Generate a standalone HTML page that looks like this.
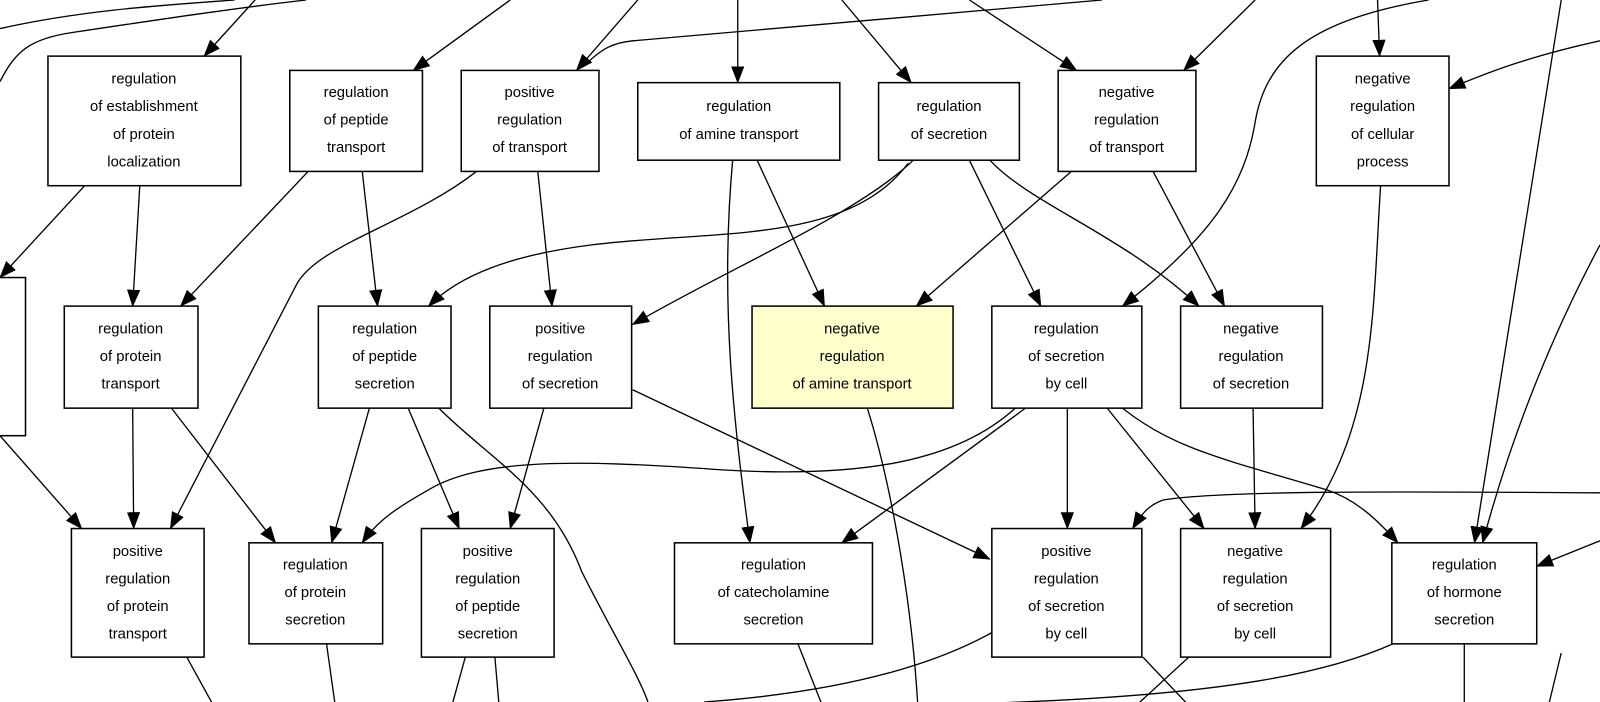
<!DOCTYPE html>
<html><head><meta charset="utf-8"><style>
html,body{margin:0;padding:0;background:#fff;}
svg{display:block;}
text{font-family:"Liberation Sans",sans-serif;font-size:14.5px;fill:#000;text-anchor:middle;}
rect{fill:#fff;stroke:#000;stroke-width:1.5;}
path{fill:none;stroke:#000;stroke-width:1.3;}
</style></head><body>
<svg width="1600" height="702" viewBox="0 0 1568 688" preserveAspectRatio="none" xmlns="http://www.w3.org/2000/svg">
<defs><marker id="a" markerUnits="userSpaceOnUse" markerWidth="17" markerHeight="13" refX="16" refY="6.5" orient="auto"><path d="M0,0 L17,6.5 L0,13 Z" style="fill:#000;stroke:none"/></marker></defs>
<g>
<path d="M0,28 C80,10 160,5 230,0"/>
<path d="M0,80 C15,50 30,38 70,32 C150,20 230,8 300,0"/>
<path d="M250,0 L200,55" marker-end="url(#a)"/>
<path d="M500,0 L405,69" marker-end="url(#a)"/>
<path d="M625,0 L565,69" marker-end="url(#a)"/>
<path d="M1080,0 L620,40 C600,42 590,48 575,62"/>
<path d="M723,0 L723,81" marker-end="url(#a)"/>
<path d="M825,0 L893,81" marker-end="url(#a)"/>
<path d="M950,0 L1055,69" marker-end="url(#a)"/>
<path d="M1230,0 L1160,69" marker-end="url(#a)"/>
<path d="M1350,0 L1352,55" marker-end="url(#a)"/>
<path d="M1568,40 C1500,55 1460,70 1420,87" marker-end="url(#a)"/>
<path d="M1400,0 C1280,20 1240,60 1230,120 C1220,180 1190,230 1100,300" marker-end="url(#a)"/>
<path d="M1530,0 L1445,532" marker-end="url(#a)"/>
<path d="M1568,240 C1520,330 1480,430 1453,532" marker-end="url(#a)"/>
<path d="M1568,530 L1506,555" marker-end="url(#a)"/>
<path d="M1568,483 C1400,482 1200,480 1140,490 C1125,495 1118,505 1110,518" marker-end="url(#a)"/>
<path d="M83,182 L0,272" marker-end="url(#a)"/>
<path d="M137,182 L130,300" marker-end="url(#a)"/>
<path d="M302,168 L177,300" marker-end="url(#a)"/>
<path d="M355,168 L370,300" marker-end="url(#a)"/>
<path d="M467,168 C400,220 310,240 290,280 L167,518" marker-end="url(#a)"/>
<path d="M527,168 L541,300" marker-end="url(#a)"/>
<path d="M718,157 C705,300 720,420 735,532" marker-end="url(#a)"/>
<path d="M742,157 L808,300" marker-end="url(#a)"/>
<path d="M895,157 C840,210 720,260 620,318" marker-end="url(#a)"/>
<path d="M890,160 C830,240 700,225 580,240 C500,250 450,270 420,300" marker-end="url(#a)"/>
<path d="M950,157 L1020,300" marker-end="url(#a)"/>
<path d="M970,157 C1010,200 1100,230 1175,300" marker-end="url(#a)"/>
<path d="M1050,168 L898,300" marker-end="url(#a)"/>
<path d="M1130,168 L1200,300" marker-end="url(#a)"/>
<path d="M1353,182 C1345,300 1350,420 1275,518" marker-end="url(#a)"/>
<path d="M0,427 L80,518" marker-end="url(#a)"/>
<path d="M130,400 L131,518" marker-end="url(#a)"/>
<path d="M168,400 L270,532" marker-end="url(#a)"/>
<path d="M362,400 L325,532" marker-end="url(#a)"/>
<path d="M400,400 L450,518" marker-end="url(#a)"/>
<path d="M430,400 C480,450 540,480 570,560 C600,620 625,660 635,688"/>
<path d="M533,400 L500,518" marker-end="url(#a)"/>
<path d="M620,382 L970,548" marker-end="url(#a)"/>
<path d="M850,400 C875,480 895,600 900,702"/>
<path d="M995,400 C940,450 850,470 700,460 C560,450 470,450 420,480 C390,497 370,510 355,532" marker-end="url(#a)"/>
<path d="M1005,400 L825,532" marker-end="url(#a)"/>
<path d="M1046,400 L1046,518" marker-end="url(#a)"/>
<path d="M1085,400 L1180,518" marker-end="url(#a)"/>
<path d="M1100,400 C1150,440 1200,450 1300,480 C1330,490 1350,510 1370,532" marker-end="url(#a)"/>
<path d="M1228,400 L1230,518" marker-end="url(#a)"/>
<path d="M183,644 L215,702"/>
<path d="M320,631 L330,702"/>
<path d="M456,644 L440,702"/>
<path d="M485,644 L490,702"/>
<path d="M782,631 L810,702"/>
<path d="M972,620 C900,660 800,680 690,688"/>
<path d="M1165,644 L1115,690"/>
<path d="M1120,644 L1175,702"/>
<path d="M1365,631 C1300,660 1200,680 1000,688 C960,690 930,690 900,692"/>
<path d="M1435,631 L1435,702"/>
<path d="M1530,640 L1515,702"/>
</g>
<rect x="-10" y="272" width="35" height="155"/>
<rect x="47" y="55" width="189" height="127"/>
<text x="141" y="82">regulation</text><text x="141" y="109">of establishment</text><text x="141" y="136">of protein</text><text x="141" y="163">localization</text>
<rect x="284" y="69" width="130" height="99"/>
<text x="349" y="95">regulation</text><text x="349" y="122">of peptide</text><text x="349" y="149">transport</text>
<rect x="452" y="69" width="135" height="99"/>
<text x="519" y="95">positive</text><text x="519" y="122">regulation</text><text x="519" y="149">of transport</text>
<rect x="625" y="81" width="198" height="76"/>
<text x="724" y="109">regulation</text><text x="724" y="136">of amine transport</text>
<rect x="861" y="81" width="138" height="76"/>
<text x="930" y="109">regulation</text><text x="930" y="136">of secretion</text>
<rect x="1037" y="69" width="135" height="99"/>
<text x="1104" y="95">negative</text><text x="1104" y="122">regulation</text><text x="1104" y="149">of transport</text>
<rect x="1290" y="55" width="130" height="127"/>
<text x="1355" y="82">negative</text><text x="1355" y="109">regulation</text><text x="1355" y="136">of cellular</text><text x="1355" y="163">process</text>
<rect x="63" y="300" width="131" height="100"/>
<text x="128" y="327">regulation</text><text x="128" y="354">of protein</text><text x="128" y="381">transport</text>
<rect x="312" y="300" width="130" height="100"/>
<text x="377" y="327">regulation</text><text x="377" y="354">of peptide</text><text x="377" y="381">secretion</text>
<rect x="480" y="300" width="139" height="100"/>
<text x="549" y="327">positive</text><text x="549" y="354">regulation</text><text x="549" y="381">of secretion</text>
<rect x="737" y="300" width="197" height="100" style="fill:#ffffcc"/>
<text x="835" y="327">negative</text><text x="835" y="354">regulation</text><text x="835" y="381">of amine transport</text>
<rect x="972" y="300" width="147" height="100"/>
<text x="1045" y="327">regulation</text><text x="1045" y="354">of secretion</text><text x="1045" y="381">by cell</text>
<rect x="1157" y="300" width="139" height="100"/>
<text x="1226" y="327">negative</text><text x="1226" y="354">regulation</text><text x="1226" y="381">of secretion</text>
<rect x="70" y="518" width="130" height="126"/>
<text x="135" y="545">positive</text><text x="135" y="572">regulation</text><text x="135" y="599">of protein</text><text x="135" y="626">transport</text>
<rect x="244" y="532" width="131" height="99"/>
<text x="309" y="558">regulation</text><text x="309" y="585">of protein</text><text x="309" y="612">secretion</text>
<rect x="413" y="518" width="130" height="126"/>
<text x="478" y="545">positive</text><text x="478" y="572">regulation</text><text x="478" y="599">of peptide</text><text x="478" y="626">secretion</text>
<rect x="661" y="532" width="194" height="99"/>
<text x="758" y="558">regulation</text><text x="758" y="585">of catecholamine</text><text x="758" y="612">secretion</text>
<rect x="972" y="518" width="147" height="126"/>
<text x="1045" y="545">positive</text><text x="1045" y="572">regulation</text><text x="1045" y="599">of secretion</text><text x="1045" y="626">by cell</text>
<rect x="1157" y="518" width="147" height="126"/>
<text x="1230" y="545">negative</text><text x="1230" y="572">regulation</text><text x="1230" y="599">of secretion</text><text x="1230" y="626">by cell</text>
<rect x="1364" y="532" width="142" height="99"/>
<text x="1435" y="558">regulation</text><text x="1435" y="585">of hormone</text><text x="1435" y="612">secretion</text>
</svg>
</body></html>
